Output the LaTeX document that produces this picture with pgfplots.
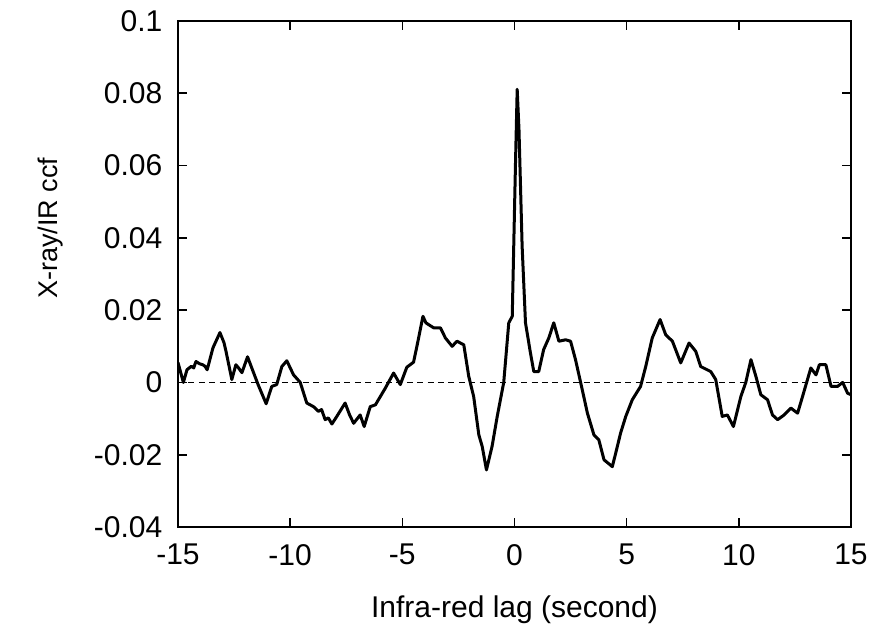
\documentclass[border=0pt]{standalone}
\usepackage{pgfplots}
\pgfplotsset{compat=1.18}
\usepackage{fontspec}
\setmainfont{Liberation Sans}

\pgfplotstableread{
x y
-15.00 0.0055
-14.76 0.0000
-14.60 0.0035
-14.40 0.0045
-14.30 0.0040
-14.20 0.0058
-14.05 0.0052
-13.90 0.0049
-13.80 0.0045
-13.70 0.0035
-13.44 0.0096
-13.13 0.0138
-12.95 0.0110
-12.86 0.0086
-12.60 0.0008
-12.42 0.0049
-12.30 0.0040
-12.15 0.0027
-11.90 0.0071
-11.68 0.0035
-11.43 -0.0006
-11.07 -0.0059
-10.82 -0.0011
-10.60 -0.0006
-10.37 0.0044
-10.15 0.0060
-9.85 0.0021
-9.55 0.0000
-9.26 -0.0057
-8.96 -0.0067
-8.74 -0.0080
-8.60 -0.0075
-8.44 -0.0103
-8.30 -0.0098
-8.14 -0.0115
-7.92 -0.0094
-7.55 -0.0057
-7.35 -0.0090
-7.17 -0.0113
-6.88 -0.0090
-6.70 -0.0122
-6.43 -0.0067
-6.20 -0.0062
-5.98 -0.0039
-5.76 -0.0016
-5.39 0.0026
-5.09 -0.0006
-4.80 0.0042
-4.50 0.0056
-4.35 0.0100
-4.08 0.0183
-3.95 0.0165
-3.83 0.0160
-3.60 0.0151
-3.30 0.0151
-3.08 0.0123
-2.78 0.0100
-2.56 0.0114
-2.26 0.0104
-2.04 0.0017
-1.82 -0.0039
-1.59 -0.0145
-1.44 -0.0177
-1.25 -0.0242
-1.00 -0.0177
-0.77 -0.0094
-0.48 0.0000
-0.255 0.0165
-0.10 0.0183
0.045 0.0608
0.12 0.0811
0.20 0.0700
0.34 0.0377
0.49 0.0165
0.71 0.0082
0.86 0.0030
1.08 0.0030
1.30 0.0091
1.53 0.0123
1.75 0.0165
1.98 0.0114
2.28 0.0118
2.50 0.0114
2.72 0.0063
3.02 -0.0020
3.25 -0.0085
3.54 -0.0145
3.76 -0.0159
3.99 -0.0214
4.36 -0.0233
4.51 -0.0196
4.73 -0.0140
4.96 -0.0094
5.25 -0.0048
5.62 -0.0011
5.85 0.0044
6.14 0.0123
6.49 0.0174
6.74 0.0132
7.04 0.0114
7.41 0.0054
7.78 0.0109
8.08 0.0086
8.30 0.0044
8.75 0.0030
8.97 0.0008
9.26 -0.0094
9.49 -0.0090
9.76 -0.0122
10.09 -0.0039
10.31 0.0000
10.54 0.0063
10.76 0.0017
10.98 -0.0034
11.28 -0.0048
11.50 -0.0090
11.73 -0.0103
12.02 -0.0090
12.32 -0.0071
12.62 -0.0085
12.84 -0.0039
13.21 0.0040
13.44 0.0021
13.59 0.0049
13.88 0.0049
14.11 -0.0011
14.40 -0.0011
14.63 0.0000
14.85 -0.0030
15.00 -0.0034
}\ccf

\begin{document}
\begin{tikzpicture}
% page = 890x628 px at 0.5pt per px, axis box from (178,21) to (851,527)
\path[use as bounding box] (-89pt,-50.5pt) rectangle (356pt,263.5pt);
\begin{axis}[
    at={(0,0)}, anchor=south west,
    scale only axis,
    width=336.5pt, height=253pt,
    xmin=-15, xmax=15,
    ymin=-0.04, ymax=0.1,
    xtick={-15,-10,...,15},
    ytick={-0.04,-0.02,...,0.1},
    yticklabels={-0.04,-0.02,0,0.02,0.04,0.06,0.08,0.1},
    tick align=inside,
    major tick length=4.5pt,
    tick style={black, line width=0.8pt},
    axis line style={line width=1pt},
    /pgf/number format/assume math mode=true,
    ticklabel style={font=\fontsize{15}{17}\selectfont},
    xticklabel style={yshift=-5pt},
    yticklabel style={xshift=-4.3pt},
    xlabel={Infra-red lag (second)},
    ylabel={X-ray/IR ccf},
    xlabel style={font=\fontsize{15}{17}\selectfont, at={(axis description cs:0.5,0)}, anchor=base, yshift=-45pt},
    ylabel style={font=\fontsize{13.5}{16}\selectfont, at={(axis description cs:-0.19,0.59)}, anchor=center},
]
\addplot[black, line width=0.7pt, dash pattern=on 3pt off 2.2pt] coordinates {(-15,0) (15,0)};
\addplot[black, line width=1.5pt, line join=round] table[x=x, y=y] {\ccf};
\end{axis}
\end{tikzpicture}
\end{document}
